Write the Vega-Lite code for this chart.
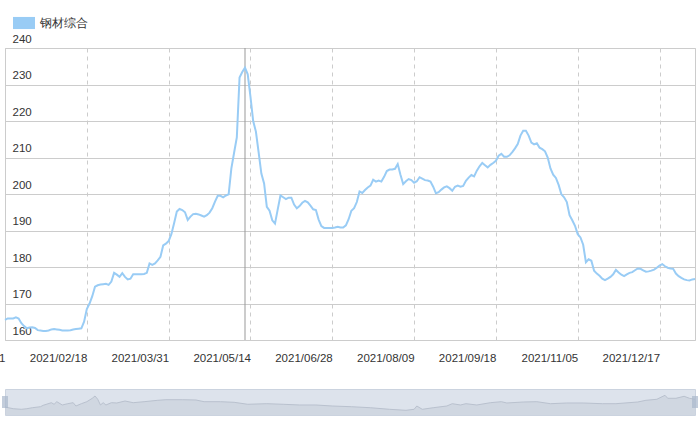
{
  "$schema": "https://vega.github.io/schema/vega-lite/v6.json",
  "padding": {"left": -54, "top": 12, "right": 5, "bottom": 0},
  "config": {"font": "Liberation Sans", "view": {"stroke": null}, "concat": {"spacing": 24}},
  "datasets": {
    "main": [
      {"d":"2020/12/31","v":165.5},{"d":"2021/01/04","v":165.9},{"d":"2021/01/05","v":165.9},{"d":"2021/01/06","v":165.9},{"d":"2021/01/07","v":166.2},{"d":"2021/01/08","v":165.9},
      {"d":"2021/01/11","v":164.6},{"d":"2021/01/12","v":163.8},{"d":"2021/01/13","v":163.2},{"d":"2021/01/14","v":163.4},{"d":"2021/01/15","v":163.5},
      {"d":"2021/01/18","v":163.3},{"d":"2021/01/19","v":162.7},{"d":"2021/01/20","v":162.6},{"d":"2021/01/21","v":162.5},{"d":"2021/01/22","v":162.5},
      {"d":"2021/01/25","v":162.6},{"d":"2021/01/26","v":162.9},{"d":"2021/01/27","v":163.0},{"d":"2021/01/28","v":162.9},{"d":"2021/01/29","v":162.8},
      {"d":"2021/02/01","v":162.6},{"d":"2021/02/02","v":162.6},{"d":"2021/02/03","v":162.6},{"d":"2021/02/04","v":162.7},{"d":"2021/02/05","v":162.9},
      {"d":"2021/02/07","v":163.0},{"d":"2021/02/08","v":163.1},{"d":"2021/02/09","v":163.2},{"d":"2021/02/10","v":165.0},
      {"d":"2021/02/18","v":168.5},{"d":"2021/02/19","v":170.0},{"d":"2021/02/20","v":172.0},
      {"d":"2021/02/22","v":174.6},{"d":"2021/02/23","v":175.0},{"d":"2021/02/24","v":175.2},{"d":"2021/02/25","v":175.3},{"d":"2021/02/26","v":175.4},
      {"d":"2021/03/01","v":175.1},{"d":"2021/03/02","v":176.0},{"d":"2021/03/03","v":178.4},{"d":"2021/03/04","v":177.9},{"d":"2021/03/05","v":177.3},
      {"d":"2021/03/08","v":178.3},{"d":"2021/03/09","v":177.3},{"d":"2021/03/10","v":176.6},{"d":"2021/03/11","v":176.8},{"d":"2021/03/12","v":178.0},
      {"d":"2021/03/15","v":178.0},{"d":"2021/03/16","v":178.0},{"d":"2021/03/17","v":178.0},{"d":"2021/03/18","v":178.1},{"d":"2021/03/19","v":178.4},
      {"d":"2021/03/22","v":181.0},{"d":"2021/03/23","v":180.6},{"d":"2021/03/24","v":181.0},{"d":"2021/03/25","v":181.8},{"d":"2021/03/26","v":182.8},
      {"d":"2021/03/29","v":185.9},{"d":"2021/03/30","v":186.4},{"d":"2021/03/31","v":187.1},
      {"d":"2021/04/01","v":189.0},{"d":"2021/04/02","v":192.0},
      {"d":"2021/04/06","v":195.2},{"d":"2021/04/07","v":195.9},{"d":"2021/04/08","v":195.6},{"d":"2021/04/09","v":195.0},
      {"d":"2021/04/12","v":192.9},{"d":"2021/04/13","v":193.8},{"d":"2021/04/14","v":194.5},{"d":"2021/04/15","v":194.6},{"d":"2021/04/16","v":194.4},
      {"d":"2021/04/19","v":194.1},{"d":"2021/04/20","v":193.8},{"d":"2021/04/21","v":194.2},{"d":"2021/04/22","v":194.9},{"d":"2021/04/23","v":196.1},
      {"d":"2021/04/25","v":197.9},{"d":"2021/04/26","v":199.5},{"d":"2021/04/27","v":199.5},{"d":"2021/04/28","v":199.1},{"d":"2021/04/29","v":199.6},{"d":"2021/04/30","v":199.9},
      {"d":"2021/05/06","v":207.0},{"d":"2021/05/07","v":211.3},{"d":"2021/05/08","v":215.5},
      {"d":"2021/05/10","v":231.9},{"d":"2021/05/11","v":233.4},{"d":"2021/05/12","v":234.6},{"d":"2021/05/13","v":232.8},{"d":"2021/05/14","v":226.7},
      {"d":"2021/05/17","v":220.0},{"d":"2021/05/18","v":217.1},{"d":"2021/05/19","v":211.4},{"d":"2021/05/20","v":205.6},{"d":"2021/05/21","v":202.9},
      {"d":"2021/05/24","v":196.5},{"d":"2021/05/25","v":195.4},{"d":"2021/05/26","v":192.8},{"d":"2021/05/27","v":191.9},{"d":"2021/05/28","v":195.8},
      {"d":"2021/05/31","v":199.6},{"d":"2021/06/01","v":199.1},{"d":"2021/06/02","v":198.6},{"d":"2021/06/03","v":199.0},{"d":"2021/06/04","v":199.0},
      {"d":"2021/06/07","v":197.1},{"d":"2021/06/08","v":196.1},{"d":"2021/06/09","v":196.7},{"d":"2021/06/10","v":197.6},{"d":"2021/06/11","v":198.1},
      {"d":"2021/06/15","v":197.7},{"d":"2021/06/16","v":196.8},{"d":"2021/06/17","v":195.8},{"d":"2021/06/18","v":195.6},
      {"d":"2021/06/21","v":193.0},{"d":"2021/06/22","v":191.2},{"d":"2021/06/23","v":190.7},{"d":"2021/06/24","v":190.7},{"d":"2021/06/25","v":190.7},
      {"d":"2021/06/28","v":190.7},{"d":"2021/06/29","v":190.8},{"d":"2021/06/30","v":191.0},{"d":"2021/07/01","v":190.8},{"d":"2021/07/02","v":190.8},
      {"d":"2021/07/05","v":191.4},{"d":"2021/07/06","v":193.1},{"d":"2021/07/07","v":195.4},{"d":"2021/07/08","v":196.1},{"d":"2021/07/09","v":197.8},
      {"d":"2021/07/12","v":200.7},{"d":"2021/07/13","v":200.3},{"d":"2021/07/14","v":201.1},{"d":"2021/07/15","v":201.8},{"d":"2021/07/16","v":202.3},
      {"d":"2021/07/19","v":203.9},{"d":"2021/07/20","v":203.4},{"d":"2021/07/21","v":203.7},{"d":"2021/07/22","v":203.4},{"d":"2021/07/23","v":204.7},
      {"d":"2021/07/26","v":206.3},{"d":"2021/07/27","v":206.7},{"d":"2021/07/28","v":206.7},{"d":"2021/07/29","v":206.9},{"d":"2021/07/30","v":208.2},
      {"d":"2021/08/02","v":205.3},{"d":"2021/08/03","v":202.7},{"d":"2021/08/04","v":203.5},{"d":"2021/08/05","v":204.1},{"d":"2021/08/06","v":203.8},
      {"d":"2021/08/09","v":203.1},{"d":"2021/08/10","v":203.5},{"d":"2021/08/11","v":204.6},{"d":"2021/08/12","v":204.2},{"d":"2021/08/13","v":203.8},
      {"d":"2021/08/16","v":203.7},{"d":"2021/08/17","v":203.4},{"d":"2021/08/18","v":202.0},{"d":"2021/08/19","v":200.2},{"d":"2021/08/20","v":200.5},
      {"d":"2021/08/23","v":201.2},{"d":"2021/08/24","v":201.8},{"d":"2021/08/25","v":202.1},{"d":"2021/08/26","v":201.6},{"d":"2021/08/27","v":200.9},
      {"d":"2021/08/30","v":202.0},{"d":"2021/08/31","v":202.3},{"d":"2021/09/01","v":202.0},{"d":"2021/09/02","v":202.2},{"d":"2021/09/03","v":203.6},
      {"d":"2021/09/06","v":204.5},{"d":"2021/09/07","v":205.2},{"d":"2021/09/08","v":204.8},{"d":"2021/09/09","v":206.4},{"d":"2021/09/10","v":207.6},
      {"d":"2021/09/13","v":208.5},{"d":"2021/09/14","v":207.9},{"d":"2021/09/15","v":207.3},{"d":"2021/09/16","v":208.0},{"d":"2021/09/17","v":208.5},
      {"d":"2021/09/18","v":209.1},{"d":"2021/09/22","v":210.5},{"d":"2021/09/23","v":211.0},{"d":"2021/09/24","v":210.2},{"d":"2021/09/26","v":210.2},
      {"d":"2021/09/27","v":210.6},{"d":"2021/09/28","v":211.5},{"d":"2021/09/29","v":212.5},{"d":"2021/09/30","v":213.7},
      {"d":"2021/10/08","v":216.0},{"d":"2021/10/09","v":217.3},
      {"d":"2021/10/11","v":217.3},{"d":"2021/10/12","v":216.0},{"d":"2021/10/13","v":214.1},{"d":"2021/10/14","v":213.6},{"d":"2021/10/15","v":213.9},
      {"d":"2021/10/18","v":212.7},{"d":"2021/10/19","v":212.3},{"d":"2021/10/20","v":211.7},{"d":"2021/10/21","v":210.0},{"d":"2021/10/22","v":207.0},
      {"d":"2021/10/25","v":205.3},{"d":"2021/10/26","v":204.4},{"d":"2021/10/27","v":202.5},{"d":"2021/10/28","v":199.9},{"d":"2021/10/29","v":199.1},
      {"d":"2021/11/01","v":197.8},{"d":"2021/11/02","v":194.2},{"d":"2021/11/03","v":192.8},{"d":"2021/11/04","v":191.3},{"d":"2021/11/05","v":189.0},
      {"d":"2021/11/08","v":188.1},{"d":"2021/11/09","v":186.1},{"d":"2021/11/10","v":181.3},{"d":"2021/11/11","v":182.1},{"d":"2021/11/12","v":181.7},
      {"d":"2021/11/15","v":179.0},{"d":"2021/11/16","v":178.2},{"d":"2021/11/17","v":177.6},{"d":"2021/11/18","v":176.8},{"d":"2021/11/19","v":176.4},
      {"d":"2021/11/22","v":176.8},{"d":"2021/11/23","v":177.3},{"d":"2021/11/24","v":178.0},{"d":"2021/11/25","v":179.2},{"d":"2021/11/26","v":178.5},
      {"d":"2021/11/29","v":177.9},{"d":"2021/11/30","v":177.5},{"d":"2021/12/01","v":178.0},{"d":"2021/12/02","v":178.4},{"d":"2021/12/03","v":178.6},
      {"d":"2021/12/06","v":179.1},{"d":"2021/12/07","v":179.6},{"d":"2021/12/08","v":179.5},{"d":"2021/12/09","v":179.1},{"d":"2021/12/10","v":178.7},
      {"d":"2021/12/13","v":178.8},{"d":"2021/12/14","v":179.0},{"d":"2021/12/15","v":179.3},{"d":"2021/12/16","v":179.8},{"d":"2021/12/17","v":180.4},
      {"d":"2021/12/20","v":180.8},{"d":"2021/12/21","v":180.2},{"d":"2021/12/22","v":179.8},{"d":"2021/12/23","v":179.6},{"d":"2021/12/24","v":179.5},
      {"d":"2021/12/27","v":178.2},{"d":"2021/12/28","v":177.5},{"d":"2021/12/29","v":177.0},{"d":"2021/12/30","v":176.6},{"d":"2021/12/31","v":176.4},
      {"d":"2022/01/04","v":176.3},{"d":"2022/01/05","v":176.6},{"d":"2022/01/06","v":176.7}
    ],
    "pointer": [{"d": "2021/05/12"}],
    "shadow": [
      {"i":0,"h":30.8},{"i":3,"h":24.2},{"i":6,"h":21.9},{"i":8,"h":24.2},{"i":10,"h":28},{"i":13,"h":31.9},{"i":14,"h":37.3},{"i":17,"h":47.3},{"i":18,"h":41.2},{"i":19,"h":51.2},
      {"i":21,"h":38.5},{"i":23,"h":43.5},{"i":25,"h":47.3},{"i":26,"h":34.6},{"i":28,"h":43.5},{"i":30,"h":51.2},{"i":32,"h":64.2},{"i":33,"h":73.1},{"i":34,"h":60.4},{"i":35,"h":38.5},
      {"i":36,"h":47.3},{"i":37,"h":38.5},{"i":39,"h":47.3},{"i":41,"h":46.2},{"i":44,"h":53.8},{"i":47,"h":47.3},{"i":51,"h":51.2},{"i":56,"h":56.5},{"i":59,"h":58.8},{"i":65,"h":58.8},
      {"i":70,"h":57.7},{"i":73,"h":51.2},{"i":79,"h":51.2},{"i":84,"h":48.8},{"i":89,"h":41.2},{"i":96,"h":43.5},{"i":102,"h":41.2},{"i":108,"h":38.5},{"i":114,"h":38.5},{"i":120,"h":34.6},
      {"i":127,"h":31.9},{"i":134,"h":28},{"i":141,"h":21.9},{"i":147,"h":18},{"i":150,"h":21.9},{"i":151,"h":34.6},{"i":153,"h":21.9},{"i":157,"h":28},{"i":162,"h":34.6},{"i":164,"h":43.5},
      {"i":167,"h":38.5},{"i":169,"h":43.5},{"i":173,"h":38.5},{"i":178,"h":47.3},{"i":182,"h":51.2},{"i":184,"h":46.2},{"i":190,"h":50},{"i":195,"h":51.2},{"i":200,"h":43.5},{"i":206,"h":46.2},
      {"i":212,"h":46.2},{"i":219,"h":43.5},{"i":224,"h":43.5},{"i":232,"h":50},{"i":235,"h":56.5},{"i":239,"h":60.4},{"i":242,"h":75.8},{"i":243,"h":64.2},{"i":246,"h":64.2},{"i":249,"h":71.9},
      {"i":251,"h":64.2},{"i":253,"h":60.4}
    ],
    "handles": [{"i": 0}, {"i": 253}]
  },
  "vconcat": [
    {
      "width": 690,
      "height": 292,
      "view": {"stroke": "#cccccc"},
      "layer": [
        {
          "data": {"name": "pointer"},
          "mark": {"type": "rule", "color": "#999999", "strokeWidth": 1},
          "encoding": {"x": {"field": "d", "type": "ordinal"}}
        },
        {
          "data": {"name": "main"},
          "mark": {"type": "line", "strokeWidth": 2},
          "encoding": {
            "x": {
              "field": "d", "type": "ordinal",
              "scale": {"type": "point", "padding": 0},
              "axis": {
                "title": null,
                "values": ["2020/12/31","2021/02/18","2021/03/31","2021/05/14","2021/06/28","2021/08/09","2021/09/18","2021/11/05","2021/12/17"],
                "labelAngle": 0, "labelAlign": "right", "labelBaseline": "top",
                "labelPadding": 12, "labelFontSize": 11.5, "labelColor": "#333333",
                "ticks": false, "domain": false,
                "grid": true, "gridColor": "#cccccc", "gridDash": [4, 4], "gridWidth": 1
              }
            },
            "y": {
              "field": "v", "type": "quantitative",
              "scale": {"domain": [160, 240], "zero": false, "nice": false},
              "axis": {
                "title": null,
                "values": [160, 170, 180, 190, 200, 210, 220, 230, 240],
                "labelAlign": "left", "labelBaseline": "alphabetic", "labelPadding": -7, "labelOffset": -6,
                "labelFontSize": 11.5, "labelColor": "#333333",
                "ticks": false, "domain": false,
                "grid": true, "gridColor": "#cccccc", "gridWidth": 1
              }
            },
            "color": {
              "datum": "钢材综合",
              "scale": {"range": ["#99ccf5"]},
              "legend": {
                "title": null, "orient": "none", "legendX": 8, "legendY": -36, "padding": 0,
                "symbolType": "M-1,-0.55H1V0.55H-1Z", "symbolSize": 484, "symbolStrokeWidth": 0,
                "labelFontSize": 12, "labelColor": "#333333", "labelOffset": 5,
                "encode": {"symbols": {"update": {"fill": {"value": "#99ccf5"}, "stroke": {"value": "transparent"}}}}
              }
            }
          }
        }
      ]
    },
    {
      "width": 690,
      "height": 26,
      "view": {"fill": "#dde3ec", "stroke": "#cbd3df"},
      "layer": [
        {
          "data": {"name": "shadow"},
          "mark": {"type": "area", "color": "#cbd2dd", "line": {"color": "#b9c1ce", "strokeWidth": 1}},
          "encoding": {
            "x": {"field": "i", "type": "quantitative", "scale": {"domain": [0, 253], "nice": false, "zero": false}, "axis": null},
            "y": {"field": "h", "type": "quantitative", "scale": {"domain": [0, 100], "nice": false}, "axis": null}
          }
        },
        {
          "data": {"name": "handles"},
          "mark": {"type": "tick", "orient": "vertical", "thickness": 6, "size": 12, "color": "#a9b8cc"},
          "encoding": {
            "x": {"field": "i", "type": "quantitative", "axis": null}
          }
        }
      ]
    }
  ]
}
